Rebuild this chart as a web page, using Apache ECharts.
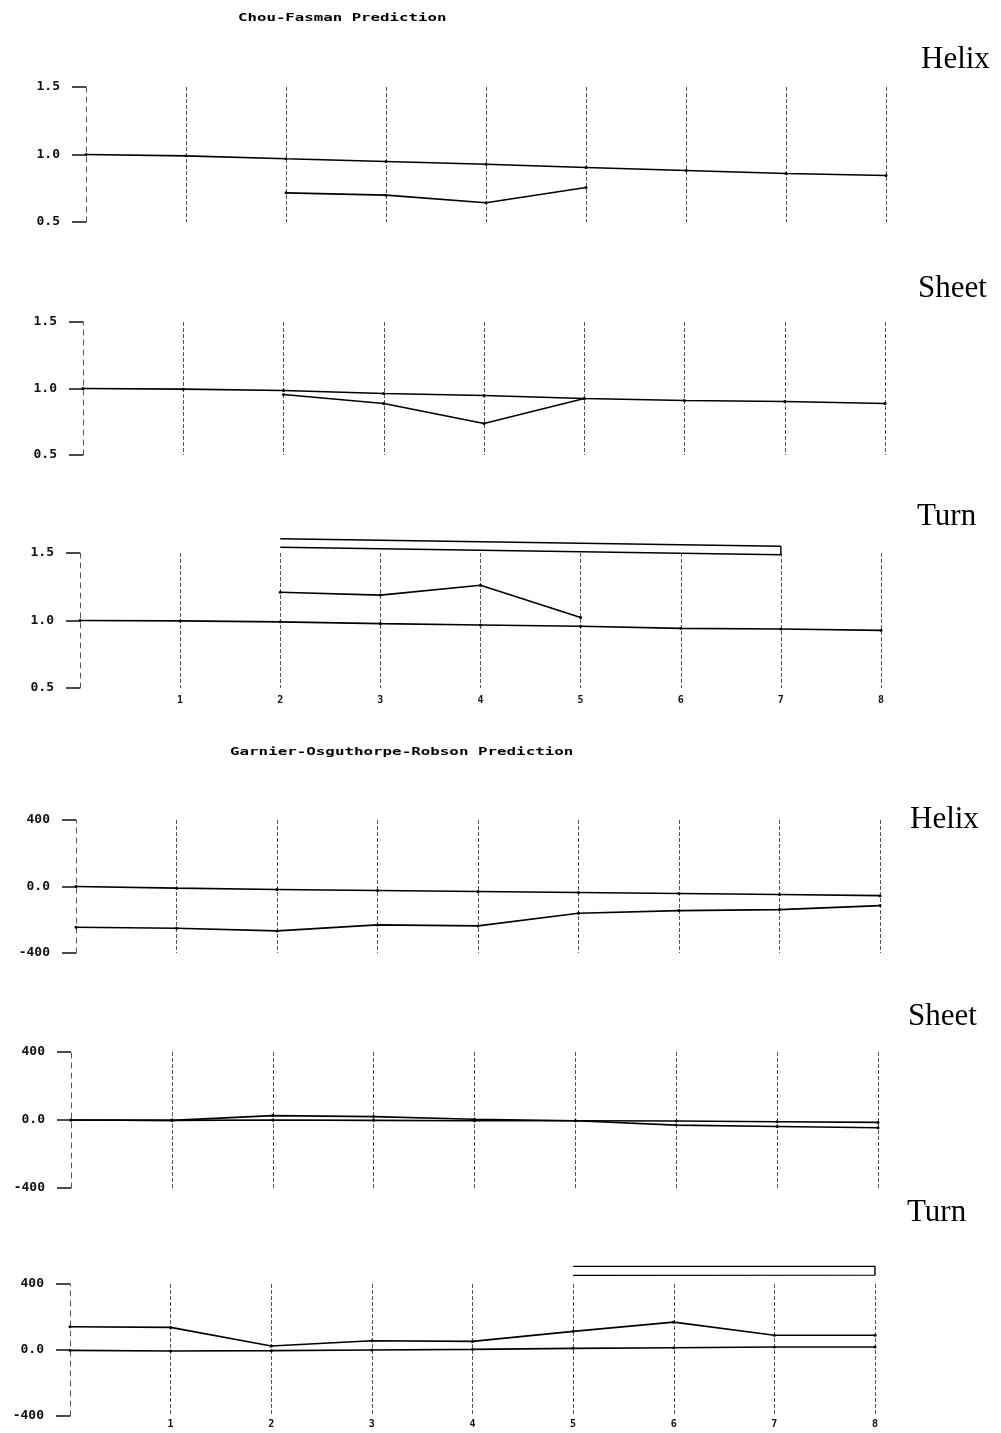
<!DOCTYPE html>
<html>
<head>
<meta charset="utf-8">
<script src="https://cdn.jsdelivr.net/npm/echarts@6/dist/echarts.min.js"></script>
<style>
html,body{margin:0;padding:0;background:#fff;}
#chart{width:1001px;height:1433px;}
</style>
</head>
<body>
<div id="chart"></div>
<script>
// ---- data ----
const xValues = [0, 1, 2, 3, 4, 5, 6, 7, 8];
const xTickLabels = ['', '1', '2', '3', '4', '5', '6', '7', '8'];
const cfYTickLabels = ['0.5', '1.0', '1.5'];
const gorYTickLabels = ['-400', '0.0', '400'];
const titles = ['Chou-Fasman Prediction', 'Garnier-Osguthorpe-Robson Prediction'];
const panelNames = ['Helix', 'Sheet', 'Turn', 'Helix', 'Sheet', 'Turn'];

const cfHelixA = [1.0, 0.99, 0.968, 0.948, 0.928, 0.904, 0.881, 0.859, 0.844];
const cfHelixB = [null, null, 0.716, 0.699, 0.643, 0.756, null, null, null];
const cfSheetA = [1.0, 0.995, 0.985, 0.962, 0.947, 0.925, 0.91, 0.902, 0.887];
const cfSheetB = [null, null, 0.955, 0.887, 0.737, 0.925, null, null, null];
const cfTurnA = [1.0, 0.997, 0.99, 0.977, 0.967, 0.957, 0.942, 0.937, 0.927];
const cfTurnB = [null, null, 1.209, 1.188, 1.261, 1.023, null, null, null];
const cfTurnBandX = [2, 7];
const cfTurnBandTop = [1.606, 1.55];
const cfTurnBandBottom = [1.543, 1.487];

const gorHelixA = [0, -10, -18, -24, -30, -36, -42, -48, -55];
const gorHelixB = [-245, -251, -267, -231, -237, -161, -145, -139, -115];
const gorSheetA = [0, -2, 0, -2, -4, -4, -6, -10, -14];
const gorSheetB = [0, -2, 26, 20, 4, -4, -30, -38, -46];
const gorTurnA = [-2, -6, -4, 0, 4, 10, 14, 18, 18];
const gorTurnB = [141, 137, 24, 56, 52, 113, 169, 89, 89];
const gorTurnBandX = [5, 8];
const gorTurnBandTop = [507, 507];
const gorTurnBandBottom = [452, 454];

// ---- helpers ----
function pts(arr) {
  const out = [];
  arr.forEach((v, i) => { if (v !== null) out.push([xValues[i], v]); });
  return out;
}
function band(xs, top, bottom) {
  return [[xs[0], top[0]], [xs[1], top[1]], [xs[1], bottom[1]], [xs[0], bottom[0]]];
}

const panels = [
  { left: 86, right: 1001 - 886, top: 87, height: 135, kind: 'cf', xl: false, series: [pts(cfHelixA), pts(cfHelixB)] },
  { left: 83, right: 1001 - 885, top: 322, height: 133, kind: 'cf', xl: false, series: [pts(cfSheetA), pts(cfSheetB)] },
  { left: 80, right: 1001 - 881, top: 553, height: 135, kind: 'cf', xl: true, series: [pts(cfTurnA), pts(cfTurnB), band(cfTurnBandX, cfTurnBandTop, cfTurnBandBottom)] },
  { left: 76, right: 1001 - 880, top: 820, height: 133, kind: 'gor', xl: false, series: [pts(gorHelixA), pts(gorHelixB)] },
  { left: 71, right: 1001 - 878, top: 1052, height: 136, kind: 'gor', xl: false, series: [pts(gorSheetA), pts(gorSheetB)] },
  { left: 70, right: 1001 - 875, top: 1284, height: 132, kind: 'gor', xl: true, series: [pts(gorTurnA), pts(gorTurnB), band(gorTurnBandX, gorTurnBandTop, gorTurnBandBottom)] }
];

const dash = { color: '#555', width: 1, type: 'dashed' };
const grid = [], xAxis = [], yAxis = [], series = [];

panels.forEach((p, gi) => {
  grid.push({ left: p.left, right: p.right, top: p.top, height: p.height, containLabel: false });
  xAxis.push({
    type: 'value', gridIndex: gi, min: 0, max: 8, interval: 1,
    axisLine: { show: false }, axisTick: { show: false },
    splitLine: { show: true, showMinLine: false, lineStyle: dash },
    axisLabel: {
      show: p.xl, margin: p.kind === 'cf' ? 7 : 3,
      fontFamily: 'DejaVu Sans Mono', fontWeight: 'bold', fontSize: 10, color: '#111',
      formatter: (v) => xTickLabels[Math.round(v)] || ''
    }
  });
  const isCf = p.kind === 'cf';
  const labels = isCf ? cfYTickLabels : gorYTickLabels;
  yAxis.push({
    type: 'value', gridIndex: gi,
    min: isCf ? 0.5 : -400, max: isCf ? 1.5 : 400, interval: isCf ? 0.5 : 400,
    axisLine: { show: true, lineStyle: { color: '#555', width: 1, type: [5, 5] } },
    axisTick: { show: true, length: 14, lineStyle: { color: '#111', width: 1.5 } },
    splitLine: { show: false },
    axisLabel: {
      margin: 26, fontFamily: 'DejaVu Sans Mono', fontWeight: 'bold', fontSize: 13, color: '#111',
      formatter: (v, idx) => labels[idx]
    }
  });
  p.series.forEach((d, si) => {
    const isBand = si === 2;
    series.push({
      type: 'line', xAxisIndex: gi, yAxisIndex: gi, data: d,
      clip: false, animation: false, silent: true,
      symbol: isBand ? 'none' : 'circle', symbolSize: 3,
      itemStyle: { color: '#000' },
      lineStyle: { color: '#000', width: isBand ? 1.4 : 1.6 }
    });
  });
});

const nameTops = [60, 289, 517, 820, 1017, 1213];
const nameLefts = [921, 918, 917, 910, 908, 907];
const graphic = [
  { type: 'text', x: 238, y: 13, scaleX: 1.43, style: { text: titles[0], font: 'bold 11px "DejaVu Sans Mono"', fill: '#000' } },
  { type: 'text', x: 230, y: 747, scaleX: 1.44, style: { text: titles[1], font: 'bold 11px "DejaVu Sans Mono"', fill: '#000' } }
];
panelNames.forEach((n, i) => {
  graphic.push({ type: 'text', x: nameLefts[i], y: nameTops[i],
    style: { text: n, font: '31px "Liberation Serif"', fill: '#000', verticalAlign: 'middle' } });
});

const chart = echarts.init(document.getElementById('chart'), null, { renderer: 'canvas' });
chart.setOption({
  backgroundColor: '#fff',
  animation: false,
  grid, xAxis, yAxis, series, graphic
});
</script>
</body>
</html>
